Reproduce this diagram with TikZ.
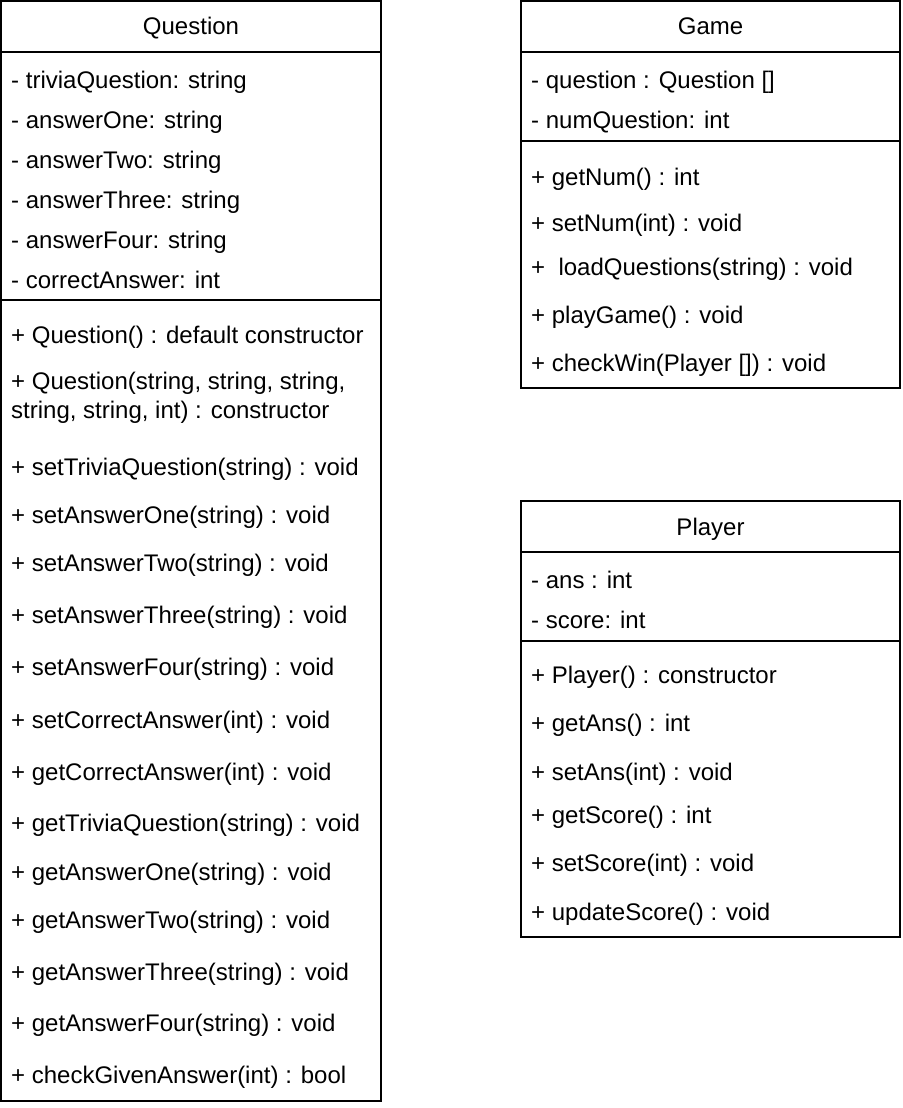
\documentclass[tikz,border=0pt]{standalone}
\usepackage{fontspec}
\setmainfont{Liberation Sans}
\usetikzlibrary{positioning}
\tikzset{
  comp/.style={rectangle,draw=black,line width=1.6pt,fill=white,minimum width=380pt,inner sep=0pt,outer sep=0pt,
    font=\fontsize{24pt}{29pt}\selectfont,text height=17pt,text depth=0pt},
  member/.style={anchor=west,inner sep=0pt,font=\fontsize{24pt}{29pt}\selectfont,text height=17pt,text depth=0pt},
  longmember/.style={anchor=west,inner sep=0pt,align=left,font=\fontsize{24pt}{29pt}\selectfont}
}
\begin{document}
\begin{tikzpicture}[x=1pt,y=-1pt]
  \useasboundingbox (0,0) rectangle (902,1108);

  % Question class
  \node[comp,minimum height=51pt] (qhead) at (191,26.5) {Question};
  \node[comp,minimum height=248pt,below=0pt of qhead] (qattr) {};
  \node[comp,minimum height=801pt,below=0pt of qattr] (qops) {};

  \node[member] (qa1) at (11,80)  {- triviaQuestion: string};
  \node[member] (qa2) at (11,120) {- answerOne: string};
  \node[member] (qa3) at (11,160) {- answerTwo: string};
  \node[member] (qa4) at (11,200) {- answerThree: string};
  \node[member] (qa5) at (11,240) {- answerFour: string};
  \node[member] (qa6) at (11,280) {- correctAnswer: int};

  \node[member] (qo1)  at (11,335)  {+ Question() : default constructor};
  \node[longmember] (qo2) at (11,397.5) {+ Question(string, string, string,\\string, string, int) : constructor};
  \node[member] (qo3)  at (11,467)  {+ setTriviaQuestion(string) : void};
  \node[member] (qo4)  at (11,515)  {+ setAnswerOne(string) : void};
  \node[member] (qo5)  at (11,563)  {+ setAnswerTwo(string) : void};
  \node[member] (qo6)  at (11,615)  {+ setAnswerThree(string) : void};
  \node[member] (qo7)  at (11,667)  {+ setAnswerFour(string) : void};
  \node[member] (qo8)  at (11,720)  {+ setCorrectAnswer(int) : void};
  \node[member] (qo9)  at (11,772)  {+ getCorrectAnswer(int) : void};
  \node[member] (qo10) at (11,823)  {+ getTriviaQuestion(string) : void};
  \node[member] (qo11) at (11,872)  {+ getAnswerOne(string) : void};
  \node[member] (qo12) at (11,920)  {+ getAnswerTwo(string) : void};
  \node[member] (qo13) at (11,972)  {+ getAnswerThree(string) : void};
  \node[member] (qo14) at (11,1023) {+ getAnswerFour(string) : void};
  \node[member] (qo15) at (11,1075) {+ checkGivenAnswer(int) : bool};

  % Game class
  \node[comp,minimum width=379pt,minimum height=51pt] (ghead) at (710.5,26.5) {Game};
  \node[comp,minimum width=379pt,minimum height=89pt,below=0pt of ghead] (gattr) {};
  \node[comp,minimum width=379pt,minimum height=247pt,below=0pt of gattr] (gops) {};

  \node[member] (ga1) at (531,80)  {- question : Question []};
  \node[member] (ga2) at (531,120) {- numQuestion: int};

  \node[member] (go1) at (531,177) {+ getNum() : int};
  \node[member] (go2) at (531,223) {+ setNum(int) : void};
  \node[member] (go3) at (531,267) {+ \ loadQuestions(string) : void};
  \node[member] (go4) at (531,315) {+ playGame() : void};
  \node[member] (go5) at (531,363) {+ checkWin(Player []) : void};

  % Player class
  \node[comp,minimum width=379pt,minimum height=51pt] (phead) at (710.5,526.5) {Player};
  \node[comp,minimum width=379pt,minimum height=89pt,below=0pt of phead] (pattr) {};
  \node[comp,minimum width=379pt,minimum height=296pt,below=0pt of pattr] (pops) {};

  \node[member] (pa1) at (531,580) {- ans : int};
  \node[member] (pa2) at (531,620) {- score: int};

  \node[member] (po1) at (531,675) {+ Player() : constructor};
  \node[member] (po2) at (531,723) {+ getAns() : int};
  \node[member] (po3) at (531,772) {+ setAns(int) : void};
  \node[member] (po4) at (531,815) {+ getScore() : int};
  \node[member] (po5) at (531,863) {+ setScore(int) : void};
  \node[member] (po6) at (531,912) {+ updateScore() : void};
\end{tikzpicture}
\end{document}
